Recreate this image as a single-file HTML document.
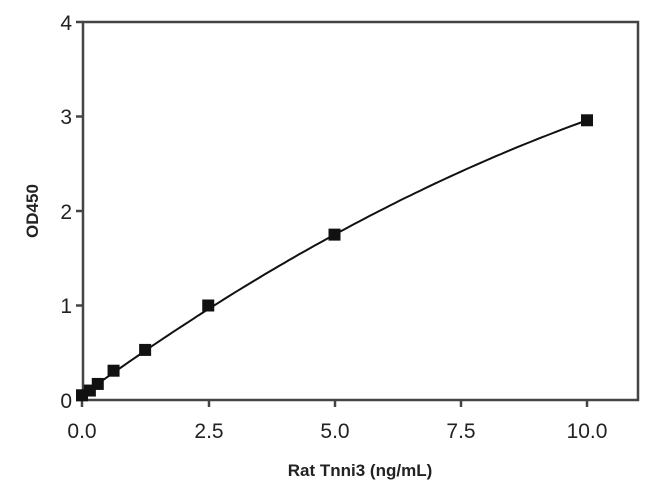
<!DOCTYPE html>
<html><head><style>
body{margin:0;background:#fff;}
text{font-family:"Liberation Sans",Arial,sans-serif;fill:#222;}
</style></head><body>
<svg id="s" width="650" height="495" viewBox="0 0 650 495" xmlns="http://www.w3.org/2000/svg">
<g stroke="#444" stroke-width="2.5" fill="none">
<rect x="83" y="22" width="555" height="378"/>
<line x1="76" y1="22" x2="83" y2="22"/>
<line x1="76" y1="116.5" x2="83" y2="116.5"/>
<line x1="76" y1="211" x2="83" y2="211"/>
<line x1="76" y1="305.5" x2="83" y2="305.5"/>
<line x1="76" y1="400" x2="83" y2="400"/>
<line x1="82" y1="400" x2="82" y2="407"/>
<line x1="209" y1="400" x2="209" y2="407"/>
<line x1="335" y1="400" x2="335" y2="407"/>
<line x1="461" y1="400" x2="461" y2="407"/>
<line x1="587" y1="400" x2="587" y2="407"/>
</g>
<g font-size="21" text-anchor="end">
<text x="72" y="30">4</text>
<text x="72" y="124">3</text>
<text x="72" y="219">2</text>
<text x="72" y="313">1</text>
<text x="72" y="408">0</text>
</g>
<g font-size="21" text-anchor="middle">
<text x="82" y="438">0.0</text>
<text x="209" y="438">2.5</text>
<text x="335" y="438">5.0</text>
<text x="461" y="438">7.5</text>
<text x="587" y="438">10.0</text>
</g>
<text x="360" y="476" font-size="17" font-weight="bold" text-anchor="middle">Rat Tnni3 (ng/mL)</text>
<text transform="translate(38,211) rotate(-90)" font-size="17" font-weight="bold" text-anchor="middle">OD450</text>
<path id="c" stroke="#111" stroke-width="2" fill="none"/>
<g id="p" fill="#111"></g>
</svg>
<script>
function X(x){return 82+x*50.5;}function Y(y){return 400-y*94.5;}
var d="";for(var i=0;i<=100;i++){var x=i/10;var y=0.05+0.389*x-0.0098*x*x;d+=(i?"L":"M")+X(x).toFixed(1)+" "+Y(y).toFixed(1);}
document.getElementById("c").setAttribute("d",d);
var pts=[[0,0.05],[0.156,0.1],[0.3125,0.17],[0.625,0.31],[1.25,0.53],[2.5,1.0],[5,1.75],[10,2.96]];
var g=document.getElementById("p"),h="";
pts.forEach(function(p){h+='<rect x="'+(X(p[0])-6)+'" y="'+(Y(p[1])-6)+'" width="12" height="12"/>';});
g.innerHTML=h;
</script>
</body></html>
